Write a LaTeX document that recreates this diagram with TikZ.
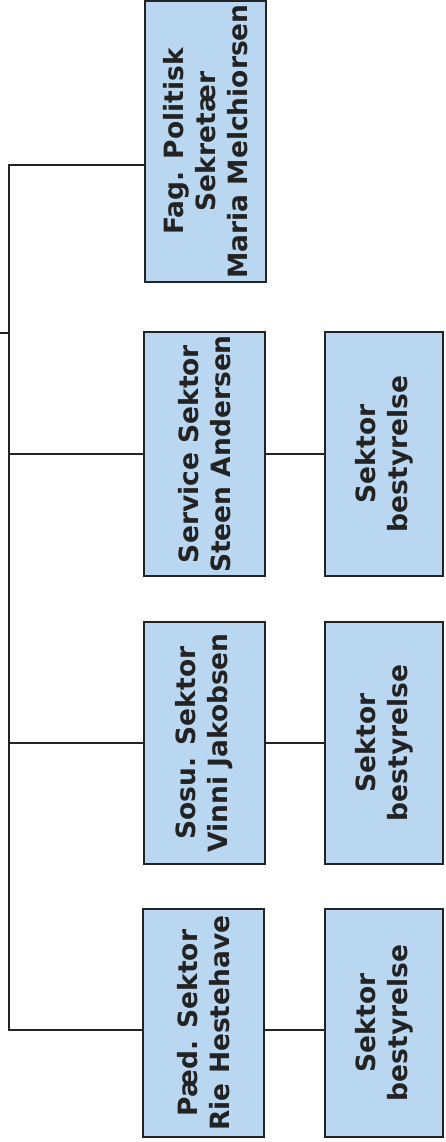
\documentclass[tikz,border=0pt]{standalone}
\usepackage{fontspec}
\setmainfont{DejaVu Sans}
\definecolor{boxblue}{RGB}{186,215,242}
\definecolor{linegray}{RGB}{35,35,35}
\begin{document}
\begin{tikzpicture}[x=1pt,y=-1pt,
  orgbox/.style={draw=linegray, fill=boxblue, line width=1.6pt, rotate=90,
    align=center, inner sep=0pt, text=linegray,
    font=\fontsize{26.5}{32}\selectfont\bfseries},
  link/.style={line width=1.5pt, draw=linegray}]
\useasboundingbox (0,0) rectangle (445,1142);
% left column
\node[orgbox, minimum width=281pt, minimum height=121pt] (fag) at (205.5,141.5) {Fag. Politisk\\Sekretær\\Maria Melchiorsen};
\node[orgbox, minimum width=244pt, minimum height=121pt] (svc) at (204.5,454) {Service Sektor\\Steen Andersen};
\node[orgbox, minimum width=242pt, minimum height=121pt] (sosu) at (204.5,743) {Sosu. Sektor\\Vinni Jakobsen};
\node[orgbox, minimum width=228pt, minimum height=121pt] (paed) at (203.5,1023) {Pæd. Sektor\\Rie Hestehave};
% right column
\node[orgbox, minimum width=244pt, minimum height=118pt] (svcb) at (384,454) {Sektor\\bestyrelse};
\node[orgbox, minimum width=242pt, minimum height=118pt] (sosub) at (384,743) {Sektor\\bestyrelse};
\node[orgbox, minimum width=228pt, minimum height=118pt] (paedb) at (384,1023) {Sektor\\bestyrelse};
% trunk
\coordinate (t1) at (9,165);
\coordinate (t4) at (9,1030);
\coordinate (stub) at (0,333);
\draw[link] (fag.north |- t1) -- (t1) -- (t4) -- (t4 -| paed.north);
\draw[link] (stub) -- (stub -| t1);
\draw[link] (t1 |- svc) -- (svc.north);
\draw[link] (t1 |- sosu) -- (sosu.north);
\draw[link] (svc.south) -- (svcb.north);
\draw[link] (sosu.south) -- (sosub.north);
\draw[link] (paed.south |- t4) -- (paedb.north |- t4);
\end{tikzpicture}
\end{document}
